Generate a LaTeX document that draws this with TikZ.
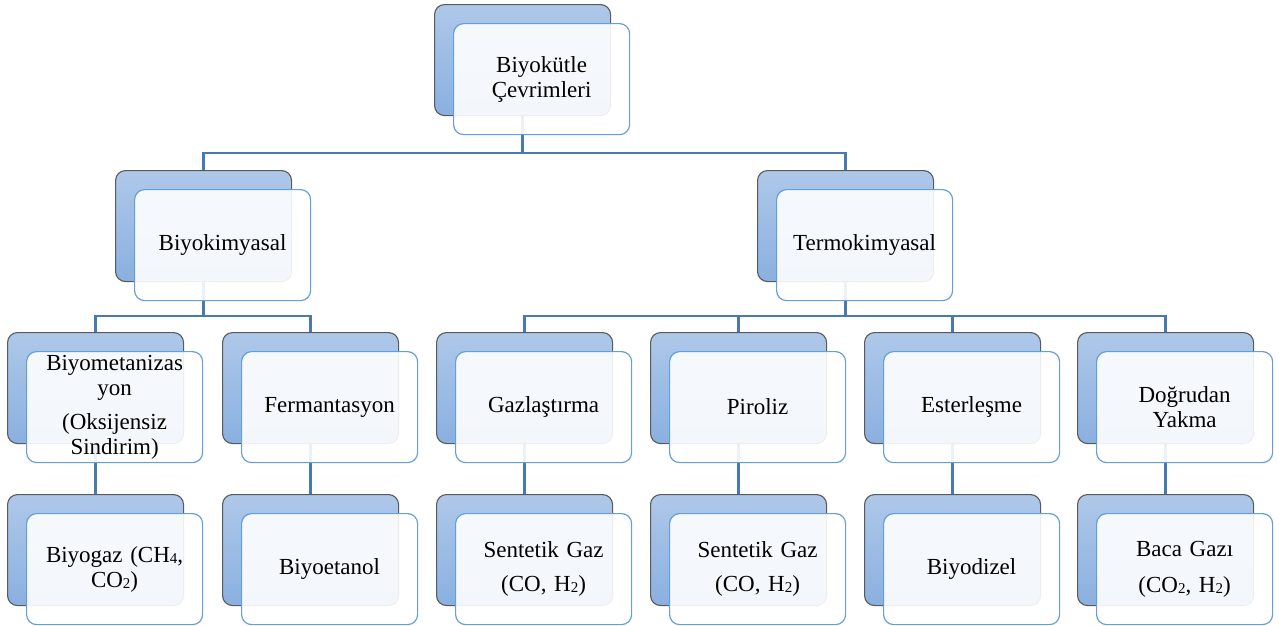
\documentclass[tikz,border=0pt]{standalone}
\usepackage{fontspec}
\setmainfont{Liberation Serif}
\definecolor{backtop}{RGB}{174,200,233}
\definecolor{backbot}{RGB}{138,176,224}
\definecolor{backline}{RGB}{90,90,90}
\definecolor{frontline}{RGB}{100,160,215}
\definecolor{conncol}{RGB}{72,122,178}
\newcommand\sbs[1]{\raisebox{-0.12ex}{\fontsize{15}{15}\selectfont #1}}
\tikzset{
  backbox/.style={rectangle, rounded corners=10pt, minimum width=176pt, minimum height=111pt,
    inner sep=0pt, draw=backline, line width=1.1pt, top color=backtop, bottom color=backbot, anchor=north west},
  frontbox/.style={rectangle, rounded corners=10pt, minimum width=176pt, minimum height=111pt,
    inner sep=2pt, draw=frontline, line width=1.2pt, fill=white, fill opacity=0.9, text opacity=1,
    text width=170pt, align=center, anchor=north west,
    font=\fontsize{23}{25}\selectfont},
  conn/.style={draw=conncol, line width=2.4pt},
}
\newcommand\backat[3]{\node[backbox] (b-#1) at (#2,#3) {};}
\newcommand\frontof[2]{\node[frontbox] (f-#1) at ([shift={(19pt,-19pt)}]b-#1.north west) {#2};}
\begin{document}
\begin{tikzpicture}[x=1pt,y=-1pt]
\useasboundingbox (0,0) rectangle (1279,625);
% back boxes
\backat{top}{434}{4}
\backat{bio}{115}{170}
\backat{ter}{757}{170}
\backat{met}{7}{332}
\backat{fer}{222}{332}
\backat{gaz}{436}{332}
\backat{pir}{650}{332}
\backat{est}{864}{332}
\backat{dog}{1077}{332}
\backat{bgz}{7}{494}
\backat{bet}{222}{494}
\backat{sg1}{436}{494}
\backat{sg2}{650}{494}
\backat{bdz}{864}{494}
\backat{bac}{1077}{494}
% buses
\coordinate (bus0) at (0,153);
\coordinate (bus1) at (0,316);
% connectors
\draw[conn] (b-top.south) -- (b-top.south |- bus0) -| (b-bio.north);
\draw[conn] (b-top.south |- bus0) -| (b-ter.north);
\draw[conn] (b-bio.south) -- (b-bio.south |- bus1) -| (b-met.north);
\draw[conn] (b-bio.south |- bus1) -| (b-fer.north);
\draw[conn] (b-ter.south) -- (b-ter.south |- bus1) -| (b-gaz.north);
\draw[conn] (b-ter.south |- bus1) -| (b-dog.north);
\draw[conn] (b-pir.north |- bus1) -- (b-pir.north);
\draw[conn] (b-est.north |- bus1) -- (b-est.north);
\draw[conn] (b-met.south) -- (b-bgz.north);
\draw[conn] (b-fer.south) -- (b-bet.north);
\draw[conn] (b-gaz.south) -- (b-sg1.north);
\draw[conn] (b-pir.south) -- (b-sg2.north);
\draw[conn] (b-est.south) -- (b-bdz.north);
\draw[conn] (b-dog.south) -- (b-bac.north);
% front boxes
\frontof{top}{Biyokütle\\Çevrimleri}
\frontof{bio}{Biyokimyasal}
\frontof{ter}{Termokimyasal}
\frontof{met}{Biyometanizas\\yon\\[9pt](Oksijensiz\\Sindirim)}
\frontof{fer}{Fermantasyon}
\frontof{gaz}{Gazlaştırma}
\frontof{pir}{Piroliz}
\frontof{est}{Esterleşme}
\frontof{dog}{Doğrudan\\Yakma}
\frontof{bgz}{Biyogaz (CH\sbs{4},\\CO\sbs{2})}
\frontof{bet}{Biyoetanol}
\frontof{sg1}{Sentetik Gaz\\[9pt](CO, H\sbs{2})}
\frontof{sg2}{Sentetik Gaz\\[9pt](CO, H\sbs{2})}
\frontof{bdz}{Biyodizel}
\frontof{bac}{Baca Gazı\\[11pt](CO\sbs{2}, H\sbs{2})}
\end{tikzpicture}
\end{document}
